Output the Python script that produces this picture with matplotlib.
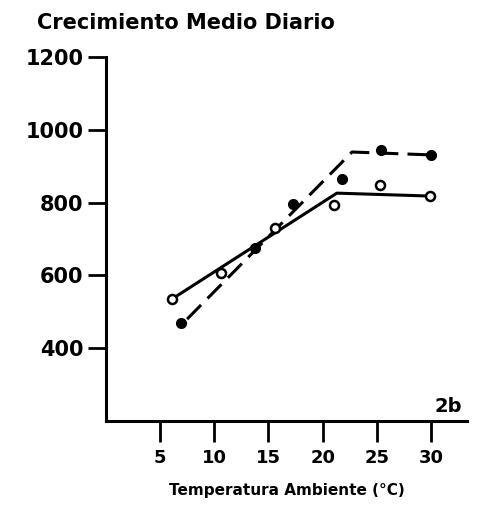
import matplotlib.pyplot as plt

# temperatura (°C) y crecimiento medio diario (g/d)
open_x = [6.1, 10.6, 15.6, 21.0, 25.3, 29.9]
open_y = [535, 607, 730, 793, 848, 818]
filled_x = [6.9, 13.8, 17.3, 21.8, 25.4, 30.0]
filled_y = [469, 675, 796, 865, 945, 931]

# rectas ajustadas (tramo creciente + meseta)
fit_open_x = [6.1, 21.3, 29.9]
fit_open_y = [535, 826, 818]
fit_filled_x = [7.5, 22.7, 30.0]
fit_filled_y = [480, 939, 931]

xticks = [5, 10, 15, 20, 25, 30]
yticks = [400, 600, 800, 1000, 1200]

fig = plt.figure(figsize=(4.85, 5.23), dpi=100)
ax = fig.add_axes([0.218, 0.195, 0.745, 0.696])

ax.plot(fit_open_x, fit_open_y, color='black', lw=2.2, linestyle='-')
ax.plot(fit_filled_x, fit_filled_y, color='black', lw=2.2, linestyle=(0, (6.5, 3)))
ax.plot(open_x, open_y, 'o', color='black', markerfacecolor='white',
        markersize=6.5, markeredgewidth=1.8, linestyle='none')
ax.plot(filled_x, filled_y, 'o', color='black', markersize=7, linestyle='none')

ax.set_xlim(0, 33.3)
ax.set_ylim(200, 1200)
ax.set_xticks(xticks)
ax.set_yticks(yticks)
ax.set_xticklabels([str(t) for t in xticks], fontsize=13, fontweight='bold')
ax.set_yticklabels([str(t) for t in yticks], fontsize=15, fontweight='bold')
ax.tick_params(axis='y', length=13, width=2, pad=3)
ax.tick_params(axis='x', length=15, width=2, pad=5)

for s in ['top', 'right']:
    ax.spines[s].set_visible(False)
for s in ['left', 'bottom']:
    ax.spines[s].set_linewidth(2.2)

fig.text(0.076, 0.945, 'Crecimiento Medio Diario', fontsize=15, fontweight='bold',
         ha='left', va='baseline')
ax.text(0.985, 0.015, '2b', transform=ax.transAxes, fontsize=14, fontweight='bold',
        ha='right', va='bottom')
ax.set_xlabel('Temperatura Ambiente (°C)', fontsize=11, fontweight='bold', labelpad=12)

fig.savefig('out.png', dpi=100)
